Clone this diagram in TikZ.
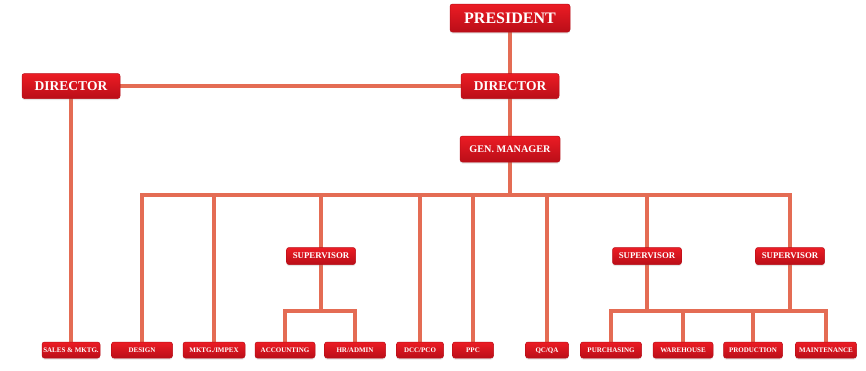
\documentclass[tikz,border=0pt]{standalone}
\usepackage{fontspec}
\setmainfont{Liberation Serif}
\usetikzlibrary{shadows}

\definecolor{boxred}{RGB}{236,28,36}
\definecolor{boxdark}{RGB}{186,14,24}
\definecolor{linkred}{RGB}{228,108,84}

\pgfdeclarelayer{bg}
\pgfsetlayers{bg,main}

\tikzset{
  post/.style={draw=boxdark, line width=0.5pt, top color=boxred, bottom color=boxdark,
    rounded corners=2.5pt, text=white, inner sep=0pt, text depth=0pt,
    drop shadow={opacity=0.2, shadow xshift=0pt, shadow yshift=-1.5pt}},
  big/.style={post, font=\bfseries\fontsize{16}{16}\selectfont, text height=10.5pt, minimum width=120, minimum height=28},
  head/.style={post, font=\bfseries\fontsize{13.5}{14}\selectfont, text height=9pt, minimum width=98, minimum height=25},
  boss/.style={post, font=\bfseries\fontsize{10.2}{11}\selectfont, text height=6.8pt, minimum width=100, minimum height=26},
  sup/.style={post, font=\bfseries\fontsize{8.8}{9}\selectfont, text height=5.9pt, minimum width=69, minimum height=17},
  dept/.style={post, font=\bfseries\fontsize{7}{8}\selectfont, text height=4.7pt, minimum height=16},
  link/.style={draw=linkred, line width=3.2pt, line join=miter},
}

\begin{document}
\begin{tikzpicture}[x=1pt,y=-1pt]

\useasboundingbox (0,0) rectangle (866,370);

\coordinate (busTop) at (0,195);
\coordinate (busLow) at (0,311);

\node [big]  (pres) at (510,18) {PRESIDENT};
\node [head] (dirR) at (510,86) {DIRECTOR};
\node [head] (dirL) at (71,86)  {DIRECTOR};
\node [boss] (gm)   at (510,149) {GEN. MANAGER};

\node [sup] (supA) at (321,256) {SUPERVISOR};
\node [sup] (supB) at (647,256) {SUPERVISOR};
\node [sup] (supC) at (790,256) {SUPERVISOR};

\node [dept, minimum width=58] (sales) at (71,350)  {SALES \& MKTG.};
\node [dept, minimum width=61] (design) at (142,350) {DESIGN};
\node [dept, minimum width=62] (impex) at (214,350)  {MKTG./IMPEX};
\node [dept, minimum width=60] (acct) at (285,350)   {ACCOUNTING};
\node [dept, minimum width=61] (hr) at (355,350)     {HR/ADMIN};
\node [dept, minimum width=47] (dcc) at (420,350)    {DCC/PCO};
\node [dept, minimum width=41] (ppc) at (473,350)    {PPC};
\node [dept, minimum width=43] (qcqa) at (547,350)   {QC/QA};
\node [dept, minimum width=61] (purch) at (611,350)  {PURCHASING};
\node [dept, minimum width=60] (ware) at (683,350)   {WAREHOUSE};
\node [dept, minimum width=59] (prod) at (753,350)   {PRODUCTION};
\node [dept, minimum width=61] (maint) at (826,350)  {MAINTENANCE};

\begin{pgfonlayer}{bg}
\fill [white] (0,0) rectangle (866,370);

\draw [link] (pres.center) -- (dirR.center) -- (gm.center) -- (gm.center |- busTop);
\draw [link] (dirL.center) -- (dirR.center);
\draw [link] (dirL.center) -- (sales.center);

\draw [link] (design.center) -- (design.center |- busTop) -- (supC.center |- busTop) -- (supC.center);
\foreach \n in {impex, supA, dcc, ppc, qcqa, supB}
  \draw [link] (\n.center) -- (\n.center |- busTop);

\draw [link] (acct.center) -- (acct.center |- busLow) -- (hr.center |- busLow) -- (hr.center);
\draw [link] (supA.center) -- (supA.center |- busLow);

\draw [link] (purch.center) -- (purch.center |- busLow) -- (maint.center |- busLow) -- (maint.center);
\foreach \n in {ware, prod, supB, supC}
  \draw [link] (\n.center) -- (\n.center |- busLow);
\end{pgfonlayer}

\end{tikzpicture}
\end{document}
